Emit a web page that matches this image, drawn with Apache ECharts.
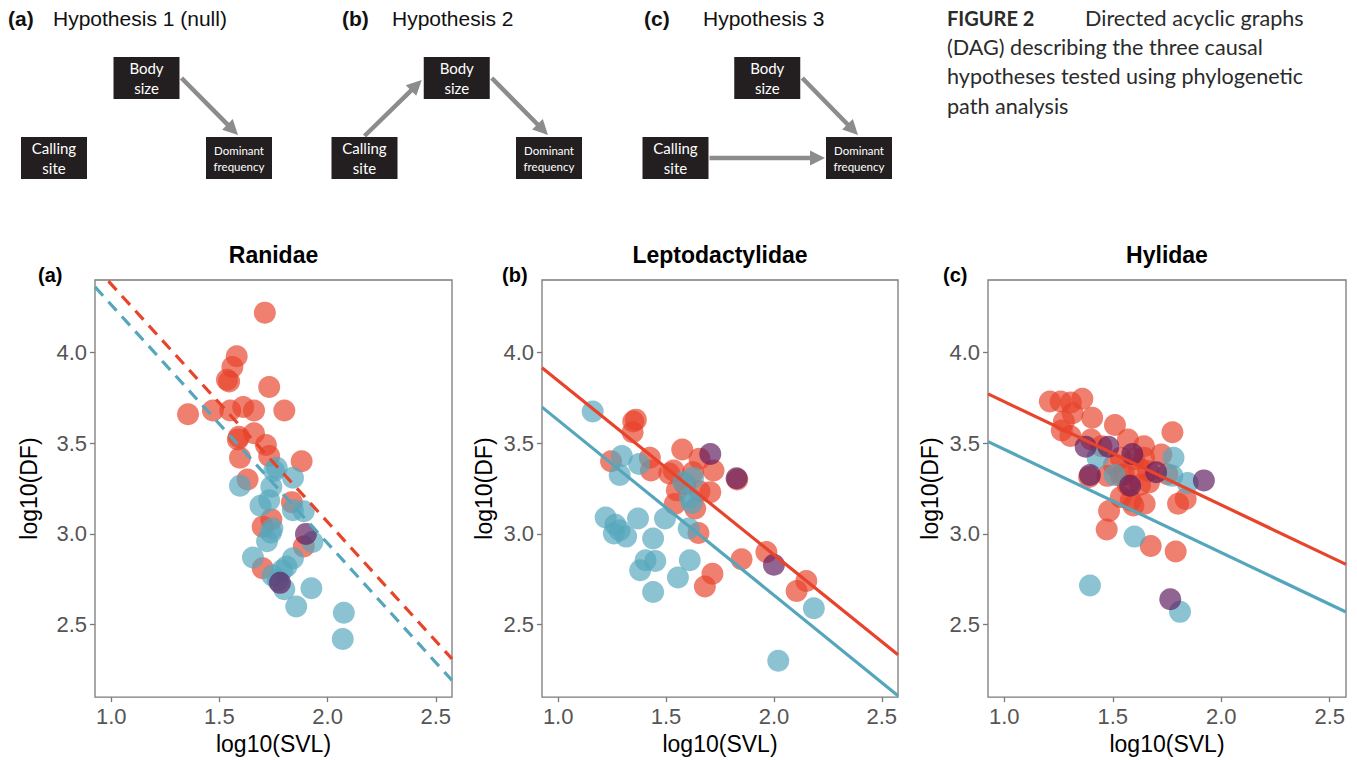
<!DOCTYPE html>
<html><head><meta charset="utf-8">
<script src="https://cdn.jsdelivr.net/npm/echarts@6/dist/echarts.min.js"></script>
<style>html,body{margin:0;padding:0;background:#fff}#c{width:1357px;height:760px}</style>
</head><body><div id="c"></div>
<script>
// ---------------- data ----------------
const families = ['Ranidae', 'Leptodactylidae', 'Hylidae'];
const panelTags = ['(a)', '(b)', '(c)'];
const xTicks = [1.0, 1.5, 2.0, 2.5];
const yTicks = [2.5, 3.0, 3.5, 4.0];
const xLabelName = 'log10(SVL)';
const yLabelName = 'log10(DF)';

const ranidaeRed = [[1.71,4.22],[1.58,3.98],[1.56,3.92],[1.535,3.85],[1.545,3.84],[1.73,3.81],[1.355,3.66],[1.47,3.68],[1.55,3.68],[1.61,3.70],[1.66,3.68],[1.80,3.68],[1.66,3.555],[1.59,3.535],[1.585,3.52],[1.715,3.49],[1.595,3.42],[1.73,3.43],[1.88,3.40],[1.63,3.30],[1.835,3.175],[1.74,3.08],[1.70,3.04],[1.89,2.93],[1.70,2.81]];
const ranidaeBlue = [[1.595,3.265],[1.765,3.365],[1.753,3.347],[1.84,3.31],[1.74,3.26],[1.73,3.185],[1.69,3.155],[1.84,3.13],[1.89,3.125],[1.745,3.03],[1.738,3.006],[1.72,2.96],[1.93,2.955],[1.655,2.87],[1.84,2.865],[1.81,2.82],[1.79,2.80],[1.745,2.77],[1.80,2.695],[1.925,2.70],[1.855,2.60],[2.075,2.565],[2.07,2.42],[1.77,2.745]];
const ranidaePurple = [[1.90,3.00],[1.78,2.73]];
const ranidaeRedLine = [[0.925,4.475],[2.575,2.311]];
const ranidaeBlueLine = [[0.925,4.362],[2.575,2.192]];

const leptoRed = [[1.36,3.63],[1.348,3.62],[1.345,3.56],[1.245,3.40],[1.425,3.42],[1.43,3.35],[1.575,3.465],[1.655,3.415],[1.72,3.35],[1.535,3.35],[1.515,3.333],[1.625,3.34],[1.55,3.24],[1.655,3.235],[1.705,3.23],[1.54,3.165],[1.635,3.14],[1.65,3.005],[1.588,3.274],[1.85,2.86],[1.965,2.90],[1.715,2.78],[1.68,2.71],[2.105,2.685],[2.15,2.74],[1.83,3.30]];
const leptoBlue = [[1.16,3.675],[1.295,3.43],[1.375,3.385],[1.285,3.325],[1.58,3.285],[1.625,3.31],[1.61,3.20],[1.62,3.17],[1.22,3.09],[1.265,3.05],[1.37,3.085],[1.285,3.02],[1.315,2.985],[1.258,3.002],[1.495,3.085],[1.44,2.975],[1.605,3.03],[1.61,2.855],[1.405,2.855],[1.45,2.85],[1.38,2.80],[1.555,2.76],[1.44,2.68],[2.185,2.59],[2.02,2.30]];
const leptoPurple = [[1.705,3.44],[1.827,3.307],[2.00,2.83]];
const leptoRedLine = [[0.925,3.916],[2.575,2.333]];
const leptoBlueLine = [[0.925,3.699],[2.575,2.107]];

const hylaRed = [[1.21,3.73],[1.26,3.73],[1.307,3.724],[1.36,3.745],[1.315,3.665],[1.275,3.62],[1.265,3.57],[1.305,3.54],[1.405,3.64],[1.51,3.60],[1.775,3.56],[1.40,3.52],[1.448,3.483],[1.57,3.52],[1.644,3.483],[1.724,3.438],[1.537,3.42],[1.598,3.411],[1.644,3.42],[1.621,3.365],[1.663,3.347],[1.552,3.329],[1.475,3.32],[1.391,3.314],[1.752,3.329],[1.667,3.284],[1.626,3.271],[1.537,3.202],[1.583,3.184],[1.647,3.166],[1.595,3.157],[1.836,3.193],[1.801,3.166],[1.483,3.126],[1.472,3.024],[1.675,2.933],[1.79,2.903],[1.537,3.32],[1.57,3.27],[1.505,3.38]];
const hylaBlue = [[1.78,3.42],[1.775,3.32],[1.845,3.28],[1.43,3.42],[1.509,3.325],[1.60,2.985],[1.395,2.715],[1.81,2.57]];
const hylaPurple = [[1.375,3.48],[1.48,3.48],[1.395,3.325],[1.58,3.265],[1.59,3.44],[1.70,3.34],[1.92,3.295],[1.765,2.64]];
const hylaRedLine = [[0.925,3.772],[2.575,2.832]];
const hylaBlueLine = [[0.925,3.509],[2.575,2.569]];

// DAG diagrams
const dagTags = ['(a)', '(b)', '(c)'];
const dagTitles = ['Hypothesis 1 (null)', 'Hypothesis 2', 'Hypothesis 3'];
const dagNodeNames = ['Calling\nsite', 'Body\nsize', 'Dominant\nfrequency'];
const dagNodeCols = [0, 1, 2];
const dagNodeRows = [0, 1, 0];
const dagEdges = [[[1, 2]], [[0, 1], [1, 2]], [[1, 2], [0, 2]]];

const captionHead = 'FIGURE 2';
const captionLines = ['Directed acyclic graphs', '(DAG) describing the three causal', 'hypotheses tested using phylogenetic', 'path analysis'];

// ---------------- styling / layout ----------------
const SANS = '"Liberation Sans", Arial, Helvetica, sans-serif';
const LATO = 'Lato, "Open Sans", sans-serif';
const RED = '#E8432B', BLUE = '#55A6BC', PURPLE = '#5E1A5E';
const PT_ALPHA = 0.68, PT_SIZE = 22;
const BW = 66, BH = 42;

const panels = [
  {red: ranidaeRed, blue: ranidaeBlue, purple: ranidaePurple, redLine: ranidaeRedLine, blueLine: ranidaeBlueLine, dashed: true},
  {red: leptoRed, blue: leptoBlue, purple: leptoPurple, redLine: leptoRedLine, blueLine: leptoBlueLine, dashed: false},
  {red: hylaRed, blue: hylaBlue, purple: hylaPurple, redLine: hylaRedLine, blueLine: hylaBlueLine, dashed: false}
];
const panelLeft = [95, 542, 988];
const panelWidth = [357, 356, 358];
const panelNameGap = [55, 47, 47];
const tagX = [38, 502, 943];
const PTOP = 280, PH = 423;

const dagLeft = [54, 364.5, 675.5];
const dagWidth = [185, 184.5, 183.5];
const dagTagX = [8, 342, 644];
const dagTitleX = [53, 392, 703];

const grids = [], xAxes = [], yAxes = [], series = [], graphics = [];

// DAG grids
dagTitles.forEach((t, i) => {
  grids.push({left: dagLeft[i], top: 78, width: dagWidth[i], height: 80, show: false});
  xAxes.push({gridIndex: i, type: 'value', min: 0, max: 2, show: false});
  yAxes.push({gridIndex: i, type: 'value', min: 0, max: 1, show: false});
  // edges
  series.push({
    type: 'custom', coordinateSystem: 'cartesian2d', xAxisIndex: i, yAxisIndex: i, silent: true,
    data: dagEdges[i],
    renderItem: function (params, api) {
      const f = api.value(0), t = api.value(1);
      const a = api.coord([dagNodeCols[f], dagNodeRows[f]]);
      const b = api.coord([dagNodeCols[t], dagNodeRows[t]]);
      let s, e;
      if (dagNodeRows[t] < dagNodeRows[f]) { s = [a[0] + BW / 2 + 2, a[1]]; e = [b[0] - 1, b[1] - BH / 2 - 2]; }
      else if (dagNodeRows[t] > dagNodeRows[f]) { s = [a[0], a[1] - BH / 2 - 1]; e = [b[0] - BW / 2 - 2, b[1] + 2]; }
      else { s = [a[0] + BW / 2 + 1, a[1]]; e = [b[0] - BW / 2 - 1, b[1]]; }
      const dx = e[0] - s[0], dy = e[1] - s[1], L = Math.hypot(dx, dy), ux = dx / L, uy = dy / L;
      const HL = 15, HW = 7.5;
      const base = [e[0] - ux * HL, e[1] - uy * HL];
      return {type: 'group', children: [
        {type: 'line', shape: {x1: s[0], y1: s[1], x2: base[0] + ux, y2: base[1] + uy}, style: {stroke: '#8c8c8c', lineWidth: 4.5}},
        {type: 'polygon', shape: {points: [e, [base[0] - uy * HW, base[1] + ux * HW], [base[0] + uy * HW, base[1] - ux * HW]]}, style: {fill: '#8c8c8c'}}
      ]};
    }
  });
  // nodes
  series.push({
    type: 'custom', coordinateSystem: 'cartesian2d', xAxisIndex: i, yAxisIndex: i, silent: true,
    data: dagNodeNames.map((n, k) => [dagNodeCols[k], dagNodeRows[k], k]),
    renderItem: function (params, api) {
      const p = api.coord([api.value(0), api.value(1)]);
      const k = api.value(2);
      const small = k === 2;
      return {type: 'group', children: [
        {type: 'rect', shape: {x: p[0] - BW / 2, y: p[1] - BH / 2, width: BW, height: BH}, style: {fill: '#231f20'}},
        {type: 'text', style: {text: dagNodeNames[k], x: p[0], y: p[1], align: 'center', verticalAlign: 'middle', textAlign: 'center', textVerticalAlign: 'middle', fill: '#fff', fontFamily: LATO, fontSize: small ? 11.5 : 15, lineHeight: small ? 16 : 20}}
      ]};
    }
  });
  graphics.push({type: 'text', x: dagTagX[i], y: 18, style: {text: dagTags[i], fontFamily: SANS, fontWeight: 'bold', fontSize: 21, fill: '#111', verticalAlign: 'middle'}});
  graphics.push({type: 'text', x: dagTitleX[i], y: 18, style: {text: dagTitles[i], fontFamily: SANS, fontSize: 21, fill: '#111', verticalAlign: 'middle'}});
});

// Caption
graphics.push({type: 'text', x: 947, y: 3, style: {
  text: '{b|' + captionHead + '}{n|' + captionLines[0] + '}\n' + captionLines.slice(1).join('\n'),
  fontFamily: LATO, fontSize: 21.6, lineHeight: 29.3, fill: '#2b2b2b',
  rich: {b: {fontFamily: LATO, fontWeight: 'bold', fontSize: 20, width: 138, lineHeight: 29.3, fill: '#2b2b2b'},
         n: {fontFamily: LATO, fontSize: 21.6, lineHeight: 29.3, fill: '#2b2b2b'}}
}});

// scatter panels
panels.forEach((p, j) => {
  const gi = 3 + j;
  grids.push({left: panelLeft[j], top: PTOP, width: panelWidth[j], height: PH, show: true, borderColor: '#7a7a7a', borderWidth: 1.3, backgroundColor: 'transparent'});
  xAxes.push({gridIndex: gi, type: 'value', min: 0.925, max: 2.575,
    name: xLabelName, nameLocation: 'middle', nameGap: 33,
    nameTextStyle: {fontFamily: SANS, fontSize: 23, color: '#000'},
    axisLine: {show: false}, splitLine: {show: false},
    axisTick: {show: true, length: 5, customValues: xTicks, lineStyle: {color: '#7a7a7a', width: 1.3}},
    axisLabel: {customValues: xTicks, margin: 8, fontFamily: SANS, fontSize: 22, color: '#555', formatter: v => v.toFixed(1)}});
  yAxes.push({gridIndex: gi, type: 'value', min: 2.1, max: 4.4,
    name: yLabelName, nameLocation: 'middle', nameGap: panelNameGap[j],
    nameTextStyle: {fontFamily: SANS, fontSize: 23, color: '#000'},
    axisLine: {show: false}, splitLine: {show: false},
    axisTick: {show: true, length: 5, customValues: yTicks, lineStyle: {color: '#7a7a7a', width: 1.3}},
    axisLabel: {customValues: yTicks, margin: 8, fontFamily: SANS, fontSize: 22, color: '#555', formatter: v => v.toFixed(1)}});
  [['red', RED], ['blue', BLUE], ['purple', PURPLE]].forEach(([k, c], z) => {
    series.push({type: 'scatter', xAxisIndex: gi, yAxisIndex: gi, data: p[k], symbolSize: PT_SIZE, silent: true, z: 2 + z,
      itemStyle: {color: c, opacity: PT_ALPHA}});
  });
  [['redLine', RED], ['blueLine', BLUE]].forEach(([k, c]) => {
    series.push({type: 'line', xAxisIndex: gi, yAxisIndex: gi, data: p[k], showSymbol: false, symbol: 'none', silent: true, clip: true, z: 6,
      lineStyle: {color: c, width: 3.2, type: p.dashed ? [12, 8] : 'solid'}});
  });
  graphics.push({type: 'text', x: panelLeft[j] + panelWidth[j] / 2, y: 255, style: {text: families[j], fontFamily: SANS, fontWeight: 'bold', fontSize: 23, fill: '#000', align: 'center', verticalAlign: 'middle'}});
  graphics.push({type: 'text', x: tagX[j], y: 275, style: {text: panelTags[j], fontFamily: SANS, fontWeight: 'bold', fontSize: 20, fill: '#000', verticalAlign: 'middle'}});
});

const chart = echarts.init(document.getElementById('c'), null, {renderer: 'svg', width: 1357, height: 760});
chart.setOption({
  animation: false,
  backgroundColor: '#fff',
  grid: grids, xAxis: xAxes, yAxis: yAxes, series: series, graphic: graphics
});
</script></body></html>
